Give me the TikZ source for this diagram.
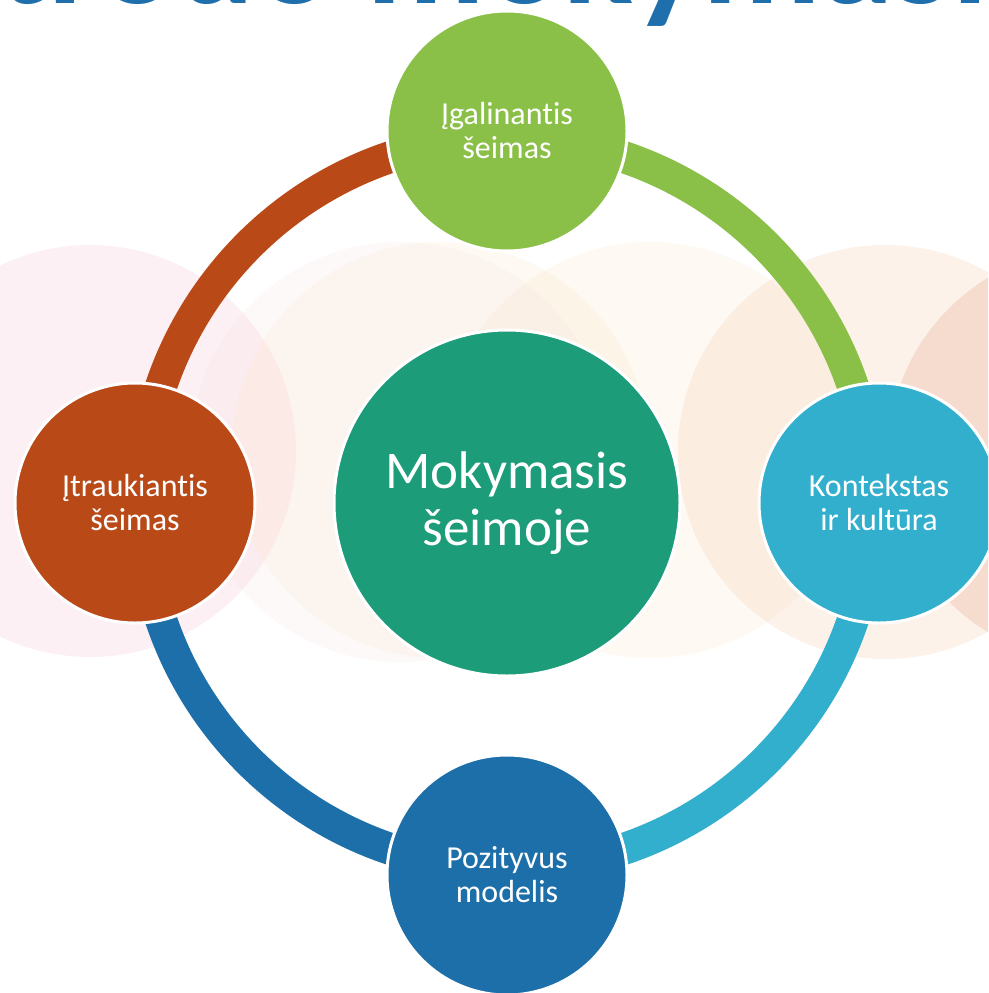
\documentclass[tikz,border=0pt]{standalone}
\usepackage{fontspec}
\setmainfont{Carlito}[Ligatures={NoCommon}]
\definecolor{cgreen}{HTML}{8BC048}
\definecolor{cred}{HTML}{B94A17}
\definecolor{clblue}{HTML}{33AFCE}
\definecolor{cdblue}{HTML}{1D6FA9}
\definecolor{cteal}{HTML}{1C9C78}
\definecolor{ctitle}{HTML}{1F6FAD}
\definecolor{bgpink}{HTML}{F5C6D8}
\definecolor{bgrose}{HTML}{F5CACB}
\definecolor{bgcream}{HTML}{FBE4C2}
\definecolor{bgpeach}{HTML}{F6CDAE}
\definecolor{bgsalmon}{HTML}{EDB39C}
\begin{document}
\begin{tikzpicture}[x=1pt,y=-1pt,
  bub/.style={circle, draw=white, line width=3pt, inner sep=0pt,
    minimum size=240pt, text=white, align=center,
    font=\fontsize{32}{34}\selectfont},
  ring/.style={line width=32pt},
  bgc/.style={fill opacity=0.26}]
\useasboundingbox (0,0) rectangle (988,993);
\clip (0,0) rectangle (988,993);
\fill[white] (0,0) rectangle (988,993);
% faint background circles
\fill[bgpink, bgc] (90,451) circle[radius=206];
\fill[bgrose, bgc, fill opacity=0.1] (400,452) circle[radius=210];
\fill[bgcream, bgc, fill opacity=0.2] (440,450) circle[radius=208];
\fill[bgcream, bgc, fill opacity=0.2] (650,450) circle[radius=208];
\fill[bgpeach, bgc] (885,452) circle[radius=207];
\fill[bgsalmon, bgc, fill opacity=0.35] (1095,455) circle[radius=207];
% title (cut at the top edge)
\node[anchor=base west, inner sep=0pt, text=ctitle,
  font=\fontsize{146}{150}\selectfont\bfseries] (title) at (366,3)
  {\llap{Kaip atrodo\ }mokymasis};
% centre
\coordinate (o) at (507,503);
\node[bub, fill=cteal, minimum size=346pt,
  font=\fontsize{53}{57}\selectfont] (mid) at (o) {Mokymasis\\šeimoje};
% ring
\draw[ring, cgreen]  (o) ++(-90:365) arc[start angle=-90, end angle=0,   radius=365];
\draw[ring, clblue]  (o) ++(0:365)   arc[start angle=0,   end angle=90,  radius=365];
\draw[ring, cdblue]  (o) ++(90:365)  arc[start angle=90,  end angle=180, radius=365];
\draw[ring, cred]    (o) ++(180:365) arc[start angle=180, end angle=270, radius=365];
% outer circles
\node[bub, fill=cgreen] (top)   at (507,131) {Įgalinantis\\šeimas};
\node[bub, fill=clblue] (right) at (879,503) {Kontekstas\\ir kultūra};
\node[bub, fill=cdblue] (bot)   at (507,875) {Pozityvus\\modelis};
\node[bub, fill=cred]   (left)  at (135,503) {Įtraukiantis\\šeimas};
\end{tikzpicture}
\end{document}
